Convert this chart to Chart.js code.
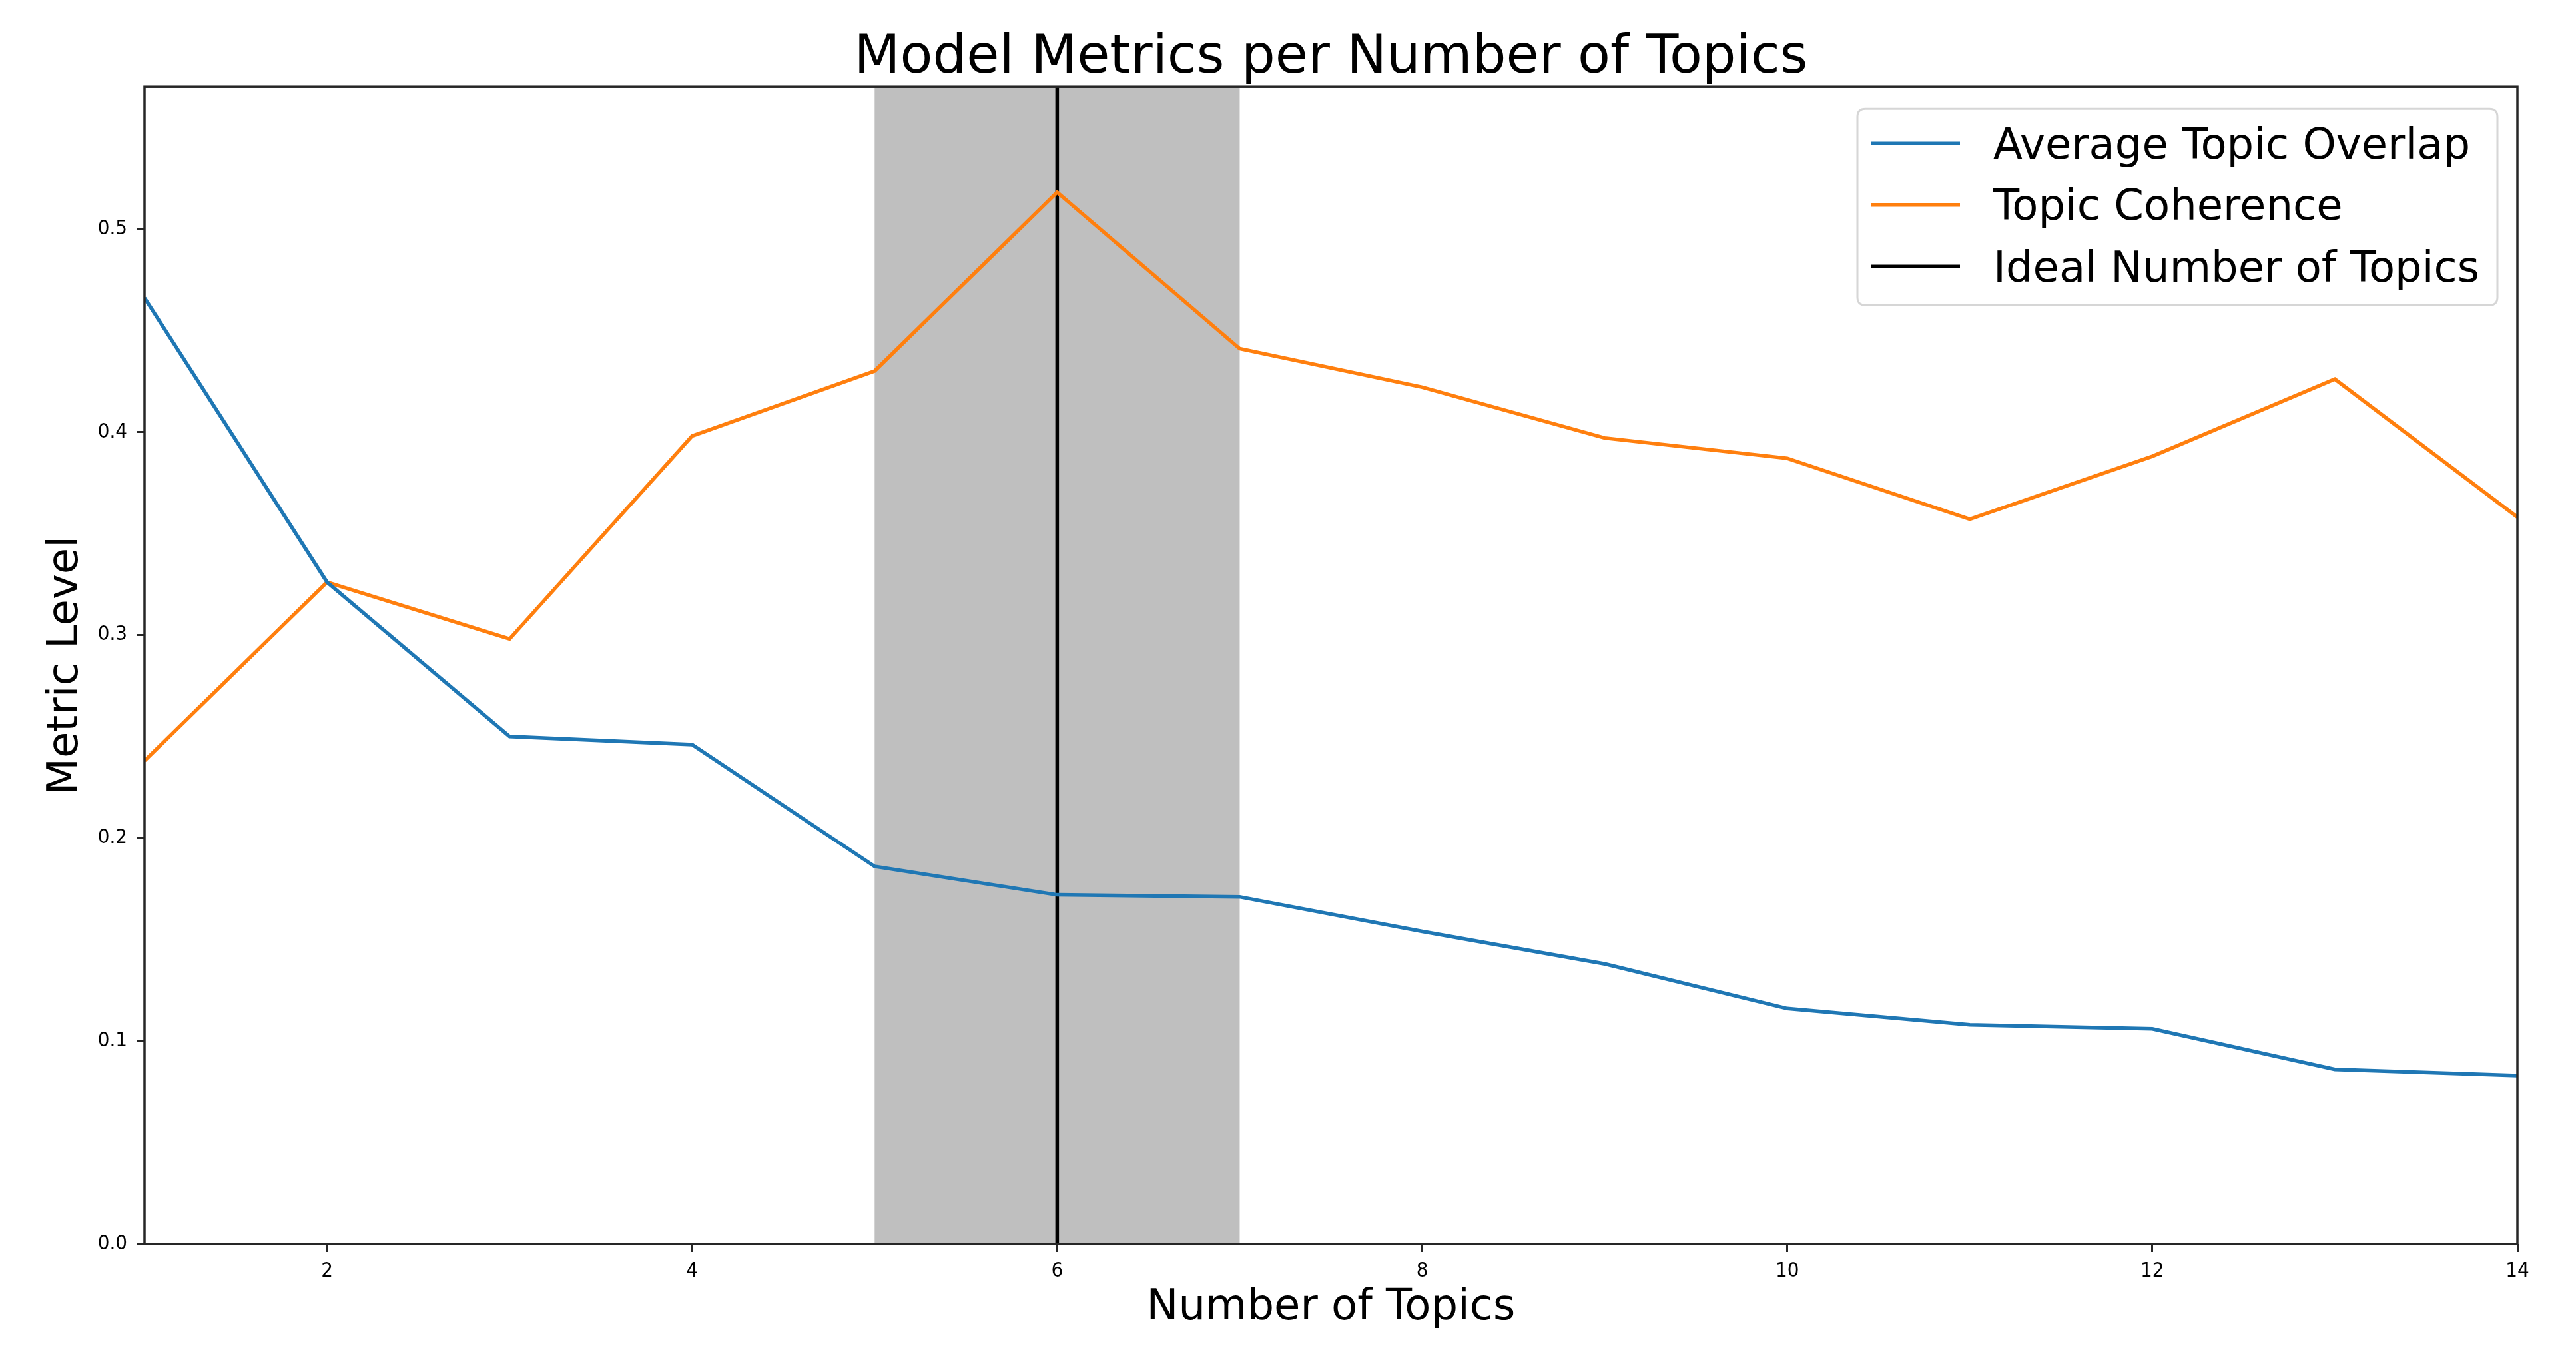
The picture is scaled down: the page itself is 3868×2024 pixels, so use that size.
<!DOCTYPE html>
<html>
<head>
<meta charset="utf-8">
<script src="https://cdn.jsdelivr.net/npm/chart.js@4.4.1/dist/chart.umd.min.js"></script>
<style>
  html, body { margin: 0; padding: 0; background: #ffffff; }
  #wrap { width: 3868px; height: 2024px; }
</style>
</head>
<body>
<div id="wrap"><canvas id="c" width="3868" height="2024"></canvas></div>
<script>
// ---- data ----
const topics = [1, 2, 3, 4, 5, 6, 7, 8, 9, 10, 11, 12, 13, 14];
const avgTopicOverlap = [0.466, 0.326, 0.250, 0.246, 0.186, 0.172, 0.171, 0.154, 0.138, 0.116, 0.108, 0.106, 0.086, 0.083];
const topicCoherence = [0.238, 0.326, 0.298, 0.398, 0.430, 0.518, 0.441, 0.422, 0.397, 0.387, 0.357, 0.388, 0.426, 0.358];
const idealTopics = 6;
const idealRange = [5, 7];
const xTicks = [2, 4, 6, 8, 10, 12, 14];
const yTicks = [0.0, 0.1, 0.2, 0.3, 0.4, 0.5];
const xLimits = [1, 14];
const yLimits = [0, 0.57];
const seriesNames = ['Average Topic Overlap', 'Topic Coherence', 'Ideal Number of Topics'];
const titleText = 'Model Metrics per Number of Topics';
const xTitle = 'Number of Topics';
const yTitle = 'Metric Level';

const FONT = "'DejaVu Sans', 'Liberation Sans', sans-serif";
const TICK_FONT = "'DejaVu Sans Condensed', 'DejaVu Sans', sans-serif";

const spanPlugin = {
  id: 'span',
  beforeDatasetsDraw(chart) {
    const { ctx, chartArea, scales } = chart;
    const x0 = scales.x.getPixelForValue(idealRange[0]);
    const x1 = scales.x.getPixelForValue(idealRange[1]);
    ctx.save();
    ctx.fillStyle = '#bfbfbf';
    ctx.fillRect(x0, chartArea.top, x1 - x0, chartArea.bottom - chartArea.top);
    ctx.restore();
  }
};

const framePlugin = {
  id: 'frame',
  afterDatasetsDraw(chart) {
    const { ctx, chartArea } = chart;
    ctx.save();
    ctx.strokeStyle = '#262626';
    ctx.lineWidth = 3.5;
    ctx.strokeRect(chartArea.left, chartArea.top, chartArea.right - chartArea.left, chartArea.bottom - chartArea.top);
    ctx.restore();
  }
};

const legendPlugin = {
  id: 'boxLegend',
  afterDraw(chart) {
    const { ctx, chartArea } = chart;
    const ds = chart.data.datasets;
    const fontSize = 64;
    ctx.save();
    ctx.font = fontSize + 'px ' + FONT;
    let maxW = 0;
    ds.forEach(d => { maxW = Math.max(maxW, ctx.measureText(d.label).width); });
    const padL = 21, lineLen = 133, gap = 50, padR = 27, rowH = 92.5, firstRow = 52, padB = 58;
    const w = padL + lineLen + gap + maxW + padR;
    const h = firstRow + rowH * (ds.length - 1) + padB;
    const right = chartArea.right - 30;
    const top = chartArea.top + 33;
    const left = right - w;
    const r = 12;
    ctx.beginPath();
    ctx.moveTo(left + r, top);
    ctx.lineTo(left + w - r, top);
    ctx.quadraticCurveTo(left + w, top, left + w, top + r);
    ctx.lineTo(left + w, top + h - r);
    ctx.quadraticCurveTo(left + w, top + h, left + w - r, top + h);
    ctx.lineTo(left + r, top + h);
    ctx.quadraticCurveTo(left, top + h, left, top + h - r);
    ctx.lineTo(left, top + r);
    ctx.quadraticCurveTo(left, top, left + r, top);
    ctx.closePath();
    ctx.fillStyle = 'rgba(255,255,255,0.85)';
    ctx.fill();
    ctx.strokeStyle = '#d6d6d6';
    ctx.lineWidth = 3;
    ctx.stroke();
    ds.forEach((d, i) => {
      const y = top + firstRow + rowH * i;
      ctx.beginPath();
      ctx.moveTo(left + padL, y);
      ctx.lineTo(left + padL + lineLen, y);
      ctx.strokeStyle = d.borderColor;
      ctx.lineWidth = d.borderWidth;
      ctx.stroke();
      ctx.fillStyle = '#000000';
      ctx.textAlign = 'left';
      ctx.textBaseline = 'middle';
      ctx.fillText(d.label, left + padL + lineLen + gap, y + 6);
    });
    ctx.restore();
  }
};

const ctx = document.getElementById('c').getContext('2d');
new Chart(ctx, {
  type: 'line',
  data: {
    datasets: [
      {
        label: seriesNames[0],
        data: topics.map((t, i) => ({ x: t, y: avgTopicOverlap[i] })),
        borderColor: '#1f77b4',
        borderWidth: 5.5,
        pointRadius: 0,
        tension: 0,
        fill: false
      },
      {
        label: seriesNames[1],
        data: topics.map((t, i) => ({ x: t, y: topicCoherence[i] })),
        borderColor: '#ff7f0e',
        borderWidth: 5.5,
        pointRadius: 0,
        tension: 0,
        fill: false
      },
      {
        label: seriesNames[2],
        data: [{ x: idealTopics, y: yLimits[0] }, { x: idealTopics, y: yLimits[1] }],
        borderColor: '#000000',
        borderWidth: 5.5,
        pointRadius: 0,
        tension: 0,
        fill: false
      }
    ]
  },
  options: {
    responsive: false,
    animation: false,
    devicePixelRatio: 1,
    layout: { padding: { left: 0, right: 88, top: 0, bottom: 0 } },
    plugins: {
      legend: { display: false },
      tooltip: { enabled: false },
      title: {
        display: true,
        fullSize: false,
        text: titleText,
        color: '#000000',
        font: { family: FONT, size: 80, weight: 'normal', lineHeight: 1.04 },
        padding: { top: 47, bottom: 0 }
      }
    },
    scales: {
      x: {
        type: 'linear',
        min: xLimits[0],
        max: xLimits[1],
        afterBuildTicks: (s) => { s.ticks = xTicks.map(v => ({ value: v })); },
        afterFit: (s) => { s.height = 156; },
        ticks: {
          color: '#000000',
          font: { family: TICK_FONT, size: 31 },
          padding: 10,
          maxRotation: 0,
          autoSkip: false,
          callback: (v) => String(v)
        },
        grid: { display: true, drawOnChartArea: false, drawTicks: true, tickLength: 12, tickColor: '#262626', tickWidth: 3, color: '#262626', lineWidth: 3 },
        border: { display: false },
        title: {
          display: true,
          text: xTitle,
          color: '#000000',
          font: { family: FONT, size: 64, weight: 'normal', lineHeight: 1.2 },
          padding: { top: 0, bottom: 21 }
        }
      },
      y: {
        type: 'linear',
        min: yLimits[0],
        max: yLimits[1],
        afterBuildTicks: (s) => { s.ticks = yTicks.map(v => ({ value: v })); },
        afterFit: (s) => { s.width = 217; },
        ticks: {
          color: '#000000',
          font: { family: TICK_FONT, size: 31 },
          padding: 14,
          autoSkip: false,
          callback: (v) => Number(v).toFixed(1)
        },
        grid: { display: true, drawOnChartArea: false, drawTicks: true, tickLength: 12, tickColor: '#262626', tickWidth: 3, color: '#262626', lineWidth: 3 },
        border: { display: false },
        title: {
          display: true,
          text: yTitle,
          color: '#000000',
          font: { family: FONT, size: 64, weight: 'normal', lineHeight: 1.2 },
          padding: { top: 61, bottom: 0 }
        }
      }
    }
  },
  plugins: [spanPlugin, framePlugin, legendPlugin]
});
</script>
</body>
</html>
